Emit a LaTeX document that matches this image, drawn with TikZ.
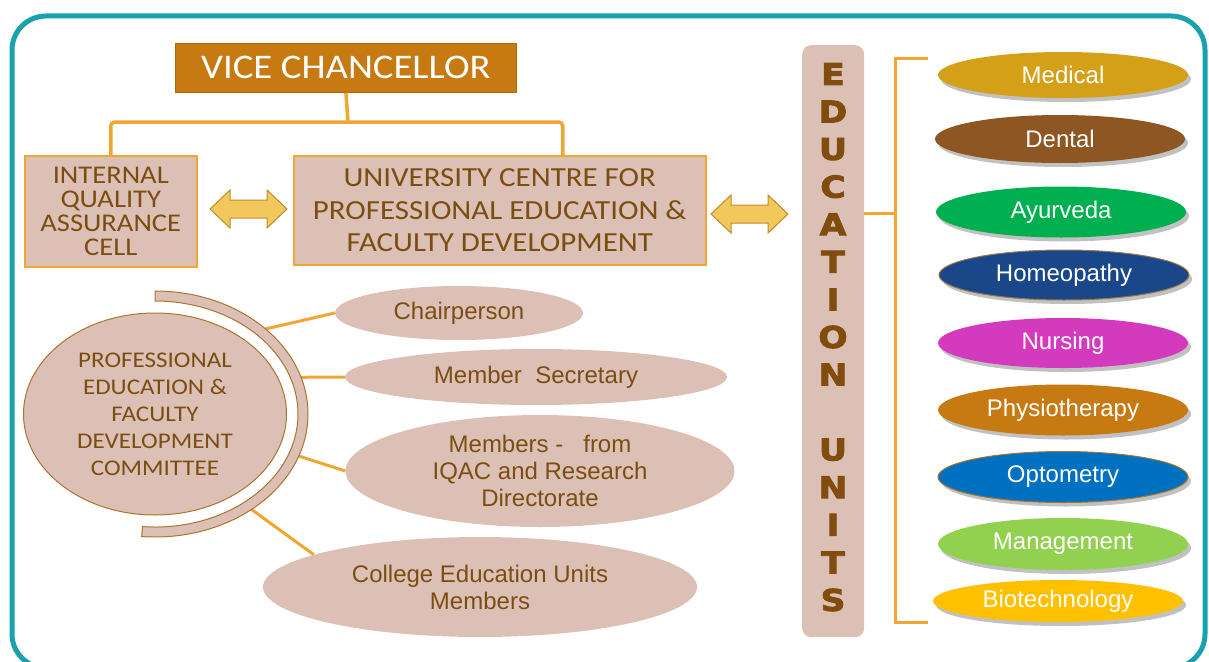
\documentclass[tikz,border=0pt]{standalone}
\usepackage{fontspec}
\setmainfont{Liberation Sans}
\newfontfamily\calfont[FakeStretch=1.12]{Carlito}
\newfontfamily\edufont[BoldFeatures={FakeBold=3,FakeStretch=1.15}]{DejaVu Sans}
\usetikzlibrary{shapes.geometric,shadows,calc}
\definecolor{tealb}{RGB}{24,162,174}
\definecolor{vcor}{RGB}{200,122,18}
\definecolor{pinkf}{RGB}{221,192,181}
\definecolor{orgl}{RGB}{241,166,50}
\definecolor{brn}{RGB}{122,78,19}
\definecolor{edubrn}{RGB}{128,77,14}
\definecolor{arrf}{RGB}{242,200,92}
\definecolor{arrd}{RGB}{190,140,40}
\definecolor{cbrown}{RGB}{168,116,46}
\definecolor{medc}{RGB}{212,160,23}
\definecolor{denc}{RGB}{142,86,34}
\definecolor{ayuc}{RGB}{0,176,80}
\definecolor{homc}{RGB}{25,71,138}
\definecolor{nurc}{RGB}{212,58,190}
\definecolor{phyc}{RGB}{200,122,18}
\definecolor{optc}{RGB}{0,112,192}
\definecolor{mgtc}{RGB}{146,208,80}
\definecolor{bioc}{RGB}{255,192,0}
\begin{document}
\begin{tikzpicture}[x=1pt,y=-1pt,
  conn/.style={draw=orgl, line width=3pt},
  pinkbox/.style={rectangle, draw=orgl, line width=1.5pt, fill=pinkf, text=brn, align=center, inner sep=0pt, anchor=north west},
  pinkell/.style={ellipse, fill=pinkf, text=brn, align=center, inner sep=0pt, font=\fontsize{24}{27}\selectfont},
  unit/.style={ellipse, text=white, inner sep=0pt, minimum width=250pt, font=\fontsize{24}{27}\selectfont,
    drop shadow={shadow xshift=3pt, shadow yshift=-4pt, opacity=0.35, fill=black!70}},
  edul/.style={text=edubrn, font=\edufont\bfseries\fontsize{30}{30}\selectfont, inner sep=0pt},
  dblarr/.style={fill=arrf, draw=arrd, line width=1pt, line join=miter},
  dbl/.pic={\draw[dblarr] (0,0) -- (20,-19) -- (20,-9) -- (57,-9) -- (57,-19) -- (77,0) -- (57,19) -- (57,9) -- (20,9) -- (20,19) -- cycle;}
]
\useasboundingbox (0,0) rectangle (1209,661);
\begin{scope}
  \clip (0,0) rectangle (1209,661);
  \draw[tealb, line width=5pt, rounded corners=34pt] (12,16) rectangle (1205,668);
\end{scope}

% top hierarchy
\node[pinkbox, fill=vcor, draw=vcor!85!black, line width=0.8pt, text=white, minimum width=341pt, minimum height=49pt,
  font=\calfont\fontsize{34.5}{34.5}\selectfont] (vc) at (175,43) {VICE CHANCELLOR};
\node[pinkbox, minimum width=172pt, minimum height=111pt, font=\calfont\fontsize{25.5}{24}\selectfont] (iqac) at (24,155)
  {INTERNAL\\QUALITY\\ASSURANCE\\CELL};
\node[pinkbox, minimum width=412pt, minimum height=109pt, font=\calfont\fontsize{27.6}{32.5}\selectfont] (ucpe) at (293,155)
  {UNIVERSITY CENTRE FOR\\PROFESSIONAL EDUCATION \&\\FACULTY DEVELOPMENT};
\coordinate (jn) at (348,122);
\draw[conn, line width=3.5pt, rounded corners=4pt] (iqac.north) |- (jn) -| ([xshift=63pt]ucpe.north);
\draw[conn, line width=3.5pt] (vc.south) -- (jn);

\pic (a1) at (210,209) {dbl};
\pic (a2) at (711,214) {dbl};

% education units bar
\node[rectangle, rounded corners=9pt, fill=pinkf, minimum width=62pt, minimum height=592pt, anchor=north west, inner sep=0pt] (edu) at (802,45) {};
\foreach \l/\i in {E/0,D/1,U/2,C/3,A/4,T/5,I/6,O/7,N/8,U/10,N/11,I/12,T/13,S/14}
  \node[edul] (el\i) at (833,{74+37.57*\i}) {\l};

\coordinate (bt) at (928,59);
\coordinate (bb) at (928,622);
\coordinate (bj) at (895,213);
\draw[conn] (bt) -| (bj) |- (bb);
\draw[conn] (edu.east |- bj) -- (bj);

\node[unit, fill=medc, minimum height=46pt] (med) at (1063,75) {Medical};
\node[unit, fill=denc, minimum height=48pt] (den) at (1060,139) {Dental};
\node[unit, fill=ayuc, minimum height=51pt] (ayu) at (1061,212) {Ayurveda};
\node[unit, fill=homc, draw=cbrown!70!gray, line width=1pt, minimum height=50pt] (hom) at (1064,275) {Homeopathy};
\node[unit, fill=nurc, minimum height=50pt] (nur) at (1063,343) {Nursing};
\node[unit, fill=phyc, minimum height=51pt] (phy) at (1063,410) {Physiotherapy};
\node[unit, fill=optc, draw=cbrown, line width=1pt, minimum height=51pt] (opt) at (1063,477) {Optometry};
\node[unit, fill=mgtc, minimum height=52pt] (mgt) at (1063,544) {Management};
\node[unit, fill=bioc, minimum height=42pt] (bio) at (1058,601) {Biotechnology};

% committee
\coordinate (cc) at (155,414);
\node[pinkell, minimum width=248pt, minimum height=54pt] (chair) at (459,313) {Chairperson};
\node[pinkell, minimum width=382pt, minimum height=56pt] (sec) at (536,377) {Member~ Secretary};
\node[pinkell, minimum width=389pt, minimum height=112pt] (mem) at (540,471) {Members -~~ from\\IQAC and Research\\Directorate};
\node[pinkell, minimum width=434pt, minimum height=100pt] (col) at (480,587) {College Education Units\\Members};

\coordinate (p1) at ($(cc)+(44:152pt and 122pt)$);
\coordinate (p2) at ($(cc)+(17.5:152pt and 122pt)$);
\coordinate (p3) at ($(cc)+(-20:152pt and 122pt)$);
\coordinate (p4) at ($(cc)+(-51:152pt and 122pt)$);
\draw[conn] (p1) -- (chair.west);
\draw[conn] (p2 -| cc) ++(140,0) -- (sec.west);
\draw[conn] (p3) -- (mem.west);
\draw[conn] (p4) -- (col.169);

\node[ellipse, draw=cbrown, line width=1pt, fill=pinkf, minimum width=263pt, minimum height=202pt, inner sep=0pt,
  text=brn, align=center, font=\calfont\fontsize{22.4}{27}\selectfont] (com) at (cc)
  {PROFESSIONAL\\EDUCATION \&\\FACULTY\\DEVELOPMENT\\COMMITTEE};
\draw[draw=cbrown, fill=pinkf, line width=1pt]
  ($(cc)+(90:153pt and 123pt)$) arc[start angle=90, end angle=-95, x radius=153pt, y radius=123pt]
  -- ($(cc)+(-95:143pt and 113pt)$) arc[start angle=-95, end angle=90, x radius=143pt, y radius=113pt] -- cycle;
\end{tikzpicture}
\end{document}
